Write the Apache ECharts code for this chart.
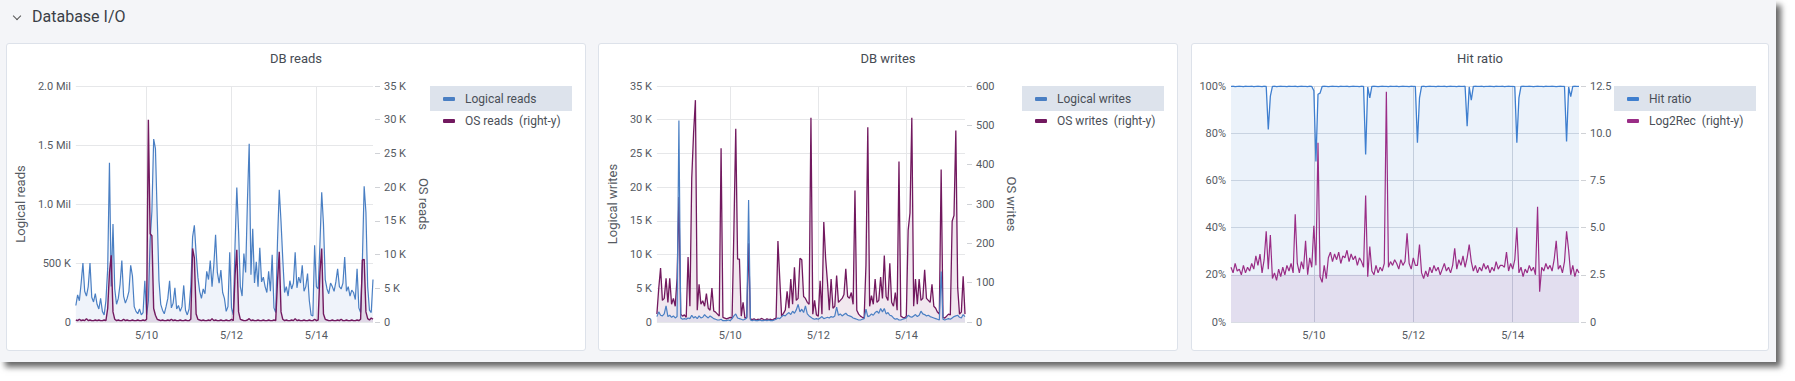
<!DOCTYPE html>
<html>
<head>
<meta charset="utf-8">
<script src="https://cdn.jsdelivr.net/npm/echarts@6/dist/echarts.min.js"></script>
<style>
html,body{margin:0;padding:0;background:#fff;width:1795px;height:381px;overflow:hidden;font-family:Roboto,"Noto Sans",sans-serif}
#page{position:absolute;left:0;top:0;width:1776px;height:362px;background:#f4f5f8;box-shadow:5px 5px 6px rgba(0,0,0,0.6)}
.panel{position:absolute;top:43px;height:308px;background:#fff;border:1px solid #dde2ea;border-radius:3px;box-sizing:border-box}
.lgbox{position:absolute;top:86px;height:25px;width:142px;background:#dde3ec}
.chart{position:absolute;top:43px;height:308px}
#hdr{position:absolute;left:32px;top:8px;font-size:16px;line-height:18px;color:#3a3f47}
#chev{position:absolute;left:14px;top:13px;width:5px;height:5px;border-right:1.5px solid #555;border-bottom:1.5px solid #555;transform:rotate(45deg)}
</style>
</head>
<body>
<div id="page">
  <div id="chev"></div>
  <div id="hdr">Database I/O</div>
  <div class="panel" style="left:6px;width:580px"></div>
  <div class="panel" style="left:598px;width:580px"></div>
  <div class="panel" style="left:1191px;width:578px"></div>
  <div class="lgbox" style="left:430px"></div>
  <div class="lgbox" style="left:1022px"></div>
  <div class="lgbox" style="left:1614px"></div>
  <div class="chart" id="c1" style="left:6px;width:580px"></div>
  <div class="chart" id="c2" style="left:598px;width:580px"></div>
  <div class="chart" id="c3" style="left:1191px;width:578px"></div>
</div>
<script>
// ---- time base (hourly samples) ----
const startTime = Date.UTC(2023, 4, 8, 8, 0);
const stepMs = 3600000;
const sampleCount = 169;
const endTime = startTime + (sampleCount - 1) * stepMs;
const xTickDates = [Date.UTC(2023, 4, 10), Date.UTC(2023, 4, 12), Date.UTC(2023, 4, 14)];
const xTickLabels = ['5/10', '5/12', '5/14'];

// ---- DB reads ----
const readsLeftLabels = ['0', '500 K', '1.0 Mil', '1.5 Mil', '2.0 Mil'];
const readsRightLabels = ['0', '5 K', '10 K', '15 K', '20 K', '25 K', '30 K', '35 K'];
// Logical reads, thousands
const logicalReads = [
  140,230,180,330,500,260,220,300,500,210,170,240,
  150,110,200,90,60,180,450,1350,300,830,280,150,
  200,320,520,220,160,200,260,480,390,130,90,70,
  110,60,80,350,60,180,690,940,1550,1470,900,350,
  150,100,70,130,200,350,120,160,290,110,140,90,
  130,310,100,60,110,300,720,820,580,380,260,200,
  280,240,430,360,520,300,480,740,420,330,440,250,
  200,90,130,590,120,60,650,1140,770,300,220,580,
  420,1020,1510,400,790,330,510,300,630,340,380,300,
  250,430,260,570,120,80,680,1120,850,530,250,300,
  220,350,280,330,590,290,380,330,480,260,300,410,
  180,60,50,650,300,280,660,1100,830,360,280,240,
  330,300,260,340,450,300,280,330,550,260,300,220,
  270,250,190,450,120,80,520,1150,930,300,100,80,
  360
];
// OS reads, thousands
const osReads = [
  0.3,0.2,0.4,0.2,0.3,0.2,0.5,0.2,0.3,0.2,0.2,0.3,
  0.2,0.3,0.2,0.2,0.3,0.2,2.0,7.3,9.9,1.5,0.4,0.2,
  0.3,0.2,0.2,0.4,0.2,0.3,0.2,0.2,0.3,0.2,0.2,0.3,
  0.2,0.2,0.3,0.2,0.4,30,13.1,12.8,2.0,1.0,0.4,0.3,
  0.2,0.3,0.2,0.2,0.3,0.2,0.4,0.2,0.3,0.2,0.2,0.3,
  0.2,0.2,0.3,0.2,0.2,0.4,10.9,9.5,1.2,0.4,0.3,0.2,
  0.3,0.2,0.2,0.3,0.2,0.5,0.2,0.3,0.2,0.2,0.3,0.2,
  0.2,0.3,0.2,0.2,0.4,0.2,6.9,10.7,1.5,0.4,0.3,0.2,
  0.2,0.3,0.5,0.2,0.3,0.2,0.2,0.3,0.2,0.2,0.3,0.2,
  0.2,0.3,0.2,0.2,0.3,0.2,6.0,10.4,1.5,0.4,0.2,0.3,
  0.2,0.2,0.3,0.2,0.5,0.2,0.3,0.2,0.2,0.3,0.2,0.2,
  0.3,0.2,0.2,0.4,0.2,0.3,7.4,10.9,1.2,0.4,0.3,0.2,
  0.2,0.3,0.2,0.2,0.3,0.2,0.4,0.2,0.2,0.3,0.2,0.2,
  0.3,0.2,0.2,0.3,0.2,0.4,9.2,9.3,1.5,0.5,0.3,0.6,
  0.4
];

// ---- DB writes ----
const writesLeftLabels = ['0', '5 K', '10 K', '15 K', '20 K', '25 K', '30 K', '35 K'];
const writesRightLabels = ['0', '100', '200', '300', '400', '500', '600'];
// Logical writes, thousands
const logicalWrites = [
  0.8,1.5,1.0,0.9,1.2,2.4,0.8,1.0,0.7,0.9,0.6,0.8,
  29.9,0.6,0.4,0.5,0.4,0.6,0.5,1.0,0.6,0.8,0.5,0.9,
  0.6,0.7,1.1,0.8,0.6,0.9,0.7,0.5,0.4,0.3,0.3,0.4,
  0.2,0.2,0.2,0.3,0.2,0.5,0.9,1.2,0.6,0.5,0.4,0.3,
  0.4,0.6,18.1,0.3,0.2,0.3,0.2,0.2,0.3,0.2,0.2,0.3,
  0.2,0.3,0.2,0.2,0.3,0.4,0.6,0.5,0.8,1.0,0.9,1.2,
  1.4,1.1,1.6,1.3,1.8,2.6,1.5,1.9,1.4,2.4,1.2,0.9,
  0.7,0.5,0.4,0.5,0.4,0.6,0.8,0.5,0.6,0.7,0.6,0.8,
  0.7,0.9,2.2,1.0,1.2,0.9,1.1,1.3,1.0,0.9,0.8,0.6,
  0.5,0.4,0.3,0.3,0.4,0.5,1.9,0.8,0.9,1.2,1.0,1.4,
  1.6,1.3,2.0,1.5,2.0,1.2,1.4,1.0,0.9,0.6,0.4,0.5,
  0.3,0.3,0.4,0.5,0.6,1.0,0.8,0.7,0.9,1.1,0.8,1.0,
  1.6,1.2,1.1,0.9,1.0,0.8,0.7,0.6,0.5,0.4,0.3,7.5,
  0.4,0.3,0.4,0.5,0.4,0.6,0.8,0.9,1.0,0.7,0.6,1.1,
  0.8
];
// OS writes
const osWrites = [
  20,85,137,55,60,111,50,111,45,60,40,111,
  318,20,15,18,12,165,40,365,480,564,30,96,
  45,54,40,72,35,30,86,28,25,20,15,442,
  12,10,8,10,12,10,237,491,160,160,15,50,
  10,12,200,8,6,8,5,7,6,9,7,5,
  8,6,7,5,8,10,206,109,15,22,30,78,
  35,109,45,139,55,60,162,158,65,60,50,45,
  519,20,55,18,15,105,20,254,162,102,30,109,
  35,40,118,50,55,60,70,135,65,60,75,45,
  334,30,20,15,12,10,145,495,40,67,45,109,
  50,55,114,60,169,65,55,149,50,40,75,30,
  408,15,12,10,15,233,277,519,40,109,45,109,
  55,60,133,60,55,50,96,40,35,25,20,388,
  12,10,15,20,18,256,271,487,88,20,25,116,
  20
];

// ---- Hit ratio ----
const hitLeftLabels = ['0%', '20%', '40%', '60%', '80%', '100%'];
const hitRightLabels = ['0', '2.5', '5.0', '7.5', '10.0', '12.5'];
const hitLowBand = [0, 20];
const hitRatio = [
  99.8,99.9,99.7,99.8,99.9,99.8,99.7,99.9,99.8,99.8,99.9,99.7,
  99.8,99.9,99.8,99.7,99.9,99.8,81.6,95.7,99.8,99.9,99.7,99.8,
  99.9,99.8,99.8,99.7,99.9,99.8,99.8,99.9,99.7,99.8,99.9,99.8,
  99.8,99.7,99.9,99.8,98.0,68.0,96.5,97.0,99.8,99.9,99.8,99.7,
  99.8,99.9,99.8,99.8,99.7,99.9,99.8,99.8,99.9,99.7,99.8,99.9,
  99.8,99.8,99.7,99.9,99.8,71.0,99.6,95.0,99.8,99.9,99.8,99.7,
  99.8,99.9,99.8,99.8,99.7,99.9,99.8,99.8,99.9,99.7,99.8,99.9,
  99.8,99.8,99.7,99.9,99.8,99.8,76.0,95.0,99.8,99.9,99.7,99.8,
  99.9,99.8,99.8,99.7,99.9,99.8,99.8,99.9,99.7,99.8,99.9,99.8,
  99.8,99.7,99.9,99.8,99.8,99.9,83.0,99.6,94.0,99.8,99.9,99.8,
  99.8,99.9,99.7,99.8,99.8,99.9,99.8,99.7,99.9,99.8,99.8,99.9,
  99.7,99.8,99.9,99.8,99.8,99.7,76.0,95.0,99.8,99.9,99.8,99.8,
  99.9,99.8,99.7,99.8,99.9,99.8,99.8,99.7,99.9,99.8,99.8,99.9,
  99.8,99.7,99.8,99.9,99.8,99.8,76.5,99.6,95.5,99.8,99.9,99.8,
  99.8
];
const log2Rec = [
  2.9,2.6,3.1,2.7,2.8,2.5,3.0,2.6,2.9,2.7,3.1,2.8,
  3.5,3.0,3.6,2.6,3.3,4.8,2.8,4.6,2.3,2.6,2.2,2.8,
  2.4,2.9,2.5,3.0,2.7,3.1,2.6,5.7,3.1,2.6,3.2,2.8,
  4.3,2.5,3.4,2.9,5.1,3.0,9.5,2.4,2.1,3.0,2.3,3.4,
  3.7,3.2,3.6,3.3,3.7,3.1,3.5,3.4,3.8,3.2,3.6,3.3,
  3.5,3.0,3.4,3.2,2.9,6.7,2.4,4.0,2.7,2.5,3.0,2.6,
  2.9,2.7,3.1,12.2,2.9,3.2,3.0,3.3,3.1,2.8,3.3,3.0,
  3.2,4.7,3.1,2.8,3.4,3.0,3.0,4.1,2.6,2.3,2.7,2.4,
  2.9,2.6,3.0,2.7,2.9,2.5,2.8,3.1,2.7,2.9,2.6,3.0,
  3.9,2.8,3.3,3.0,3.5,2.9,3.4,4.1,3.2,2.7,3.0,2.6,
  2.9,2.7,3.1,2.8,3.0,2.6,2.9,2.7,3.2,2.8,3.0,3.0,
  2.9,3.7,2.7,3.1,2.8,3.3,5.0,2.6,2.9,2.4,2.8,2.6,
  3.0,2.7,2.9,2.5,6.1,1.6,2.9,2.7,3.1,2.8,3.0,2.7,
  3.3,4.3,2.8,3.0,2.6,3.2,4.8,3.8,2.5,3.0,2.4,2.8,
  2.6
];

// ---- helpers ----
const FONT = 'Roboto, "Noto Sans", sans-serif';
const LABEL = '#555a62';
const BLUE = '#4a7fc3';
const PURPLE = '#72195f';
const HIT_BLUE = '#3f7fcf';
const MAGENTA = '#9a2d86';
const pairs = arr => arr.map((v, i) => [startTime + i * stepMs, v]);

function xAxisFor(splitColor) {
  return {
    type: 'value', min: startTime, max: endTime, scale: true,
    axisLine: { show: false },
    axisTick: { show: false, customValues: xTickDates },
    axisLabel: {
      customValues: xTickDates, color: LABEL, fontSize: 11, fontFamily: FONT, margin: 8,
      formatter: v => { const k = xTickDates.findIndex(t => Math.abs(t - v) < 60000); return k >= 0 ? xTickLabels[k] : ''; }
    },
    splitLine: { show: true, lineStyle: { color: splitColor, width: 1 } }
  };
}
function leftY(max, interval, labels, name, gap, splitColor) {
  return {
    type: 'value', position: 'left', min: 0, max: max, interval: interval,
    axisLine: { show: false }, axisTick: { show: false },
    axisLabel: { formatter: v => labels[Math.round(v / interval)], color: LABEL, fontSize: 11, fontFamily: FONT, margin: 5 },
    splitLine: { show: true, lineStyle: { color: splitColor, width: 1 } },
    name: name, nameLocation: 'middle', nameGap: gap, nameRotate: 90,
    nameTextStyle: { color: LABEL, fontSize: 13, fontFamily: FONT }
  };
}
function rightY(max, interval, labels, name, gap) {
  return {
    type: 'value', position: 'right', offset: 2, min: 0, max: max, interval: interval,
    axisLine: { show: false },
    axisTick: { show: true, length: 5, lineStyle: { color: '#d0d2d6' } },
    axisLabel: { formatter: v => labels[Math.round(v / interval)], color: LABEL, fontSize: 11, fontFamily: FONT, margin: 9 },
    splitLine: { show: false },
    name: name, nameLocation: 'middle', nameGap: gap, nameRotate: -90,
    nameTextStyle: { color: LABEL, fontSize: 13, fontFamily: FONT }
  };
}
function legendFor(names, shown, left) {
  return {
    orient: 'vertical', left: left, top: 43, itemWidth: 12, itemHeight: 4, itemGap: 6,
    icon: 'roundRect', selectedMode: false, data: names,
    formatter: n => shown[names.indexOf(n)],
    textStyle: { color: '#4a4f57', fontSize: 12, fontFamily: FONT, lineHeight: 16, padding: [0, 0, 0, 5] }
  };
}
function titleFor(text) {
  return { text: text, left: 'center', top: 4, textStyle: { color: '#464b53', fontSize: 13, fontWeight: 'normal', fontFamily: FONT } };
}
function lineSeries(name, data, color, yIdx, width, fillOpacity, z) {
  const s = {
    type: 'line', name: name, data: pairs(data), yAxisIndex: yIdx, color: color,
    showSymbol: false, symbol: 'none', z: z,
    lineStyle: { width: width, color: color }
  };
  if (fillOpacity > 0) s.areaStyle = { color: color, opacity: fillOpacity };
  return s;
}

function render(id, opt) {
  const c = echarts.init(document.getElementById(id), null, { renderer: 'svg' });
  try { c.setOption(opt); } catch (e) { console.error(e); }
  return c;
}

// ---- DB reads ----
render('c1', {
  animation: false,
  title: titleFor('DB reads'),
  legend: legendFor(['Logical reads', 'OS reads'], ['Logical reads', 'OS reads  (right-y)'], 432),
  grid: { left: 66, top: 43, width: 301, height: 236 },
  xAxis: xAxisFor('#e6e7e9'),
  yAxis: [
    leftY(2000, 500, readsLeftLabels, 'Logical reads', 42, '#e6e7e9'),
    rightY(35, 5, readsRightLabels, 'OS reads', 33)
  ],
  series: [
    lineSeries('Logical reads', logicalReads, BLUE, 0, 1.2, 0.09, 2),
    lineSeries('OS reads', osReads, PURPLE, 1, 1.4, 0.12, 3)
  ]
});

// ---- DB writes ----
render('c2', {
  animation: false,
  title: titleFor('DB writes'),
  legend: legendFor(['Logical writes', 'OS writes'], ['Logical writes', 'OS writes  (right-y)'], 432),
  grid: { left: 55, top: 43, width: 312, height: 236 },
  xAxis: xAxisFor('#e6e7e9'),
  yAxis: [
    leftY(35, 5, writesLeftLabels, 'Logical writes', 31, '#e6e7e9'),
    rightY(600, 100, writesRightLabels, 'OS writes', 31)
  ],
  series: [
    lineSeries('Logical writes', logicalWrites, BLUE, 0, 1.2, 0.09, 3),
    lineSeries('OS writes', osWrites, PURPLE, 1, 1.3, 0.1, 2)
  ]
});

// ---- Hit ratio ----
const hitSeries = lineSeries('Hit ratio', hitRatio, HIT_BLUE, 0, 1.3, 0.1, 2);
hitSeries.markArea = {
  silent: true,
  itemStyle: { color: 'rgba(155,44,134,0.1)' },
  data: [[{ yAxis: hitLowBand[0] }, { yAxis: hitLowBand[1] }]]
};
render('c3', {
  animation: false,
  title: titleFor('Hit ratio'),
  legend: legendFor(['Hit ratio', 'Log2Rec'], ['Hit ratio', 'Log2Rec  (right-y)'], 431),
  grid: { left: 40, top: 43, width: 348, height: 236 },
  xAxis: xAxisFor('#d3d7de'),
  yAxis: [
    leftY(100, 20, hitLeftLabels, '', 30, '#d9dde4'),
    rightY(12.5, 2.5, hitRightLabels, '', 30)
  ],
  series: [
    hitSeries,
    lineSeries('Log2Rec', log2Rec, MAGENTA, 1, 1.2, 0, 3)
  ]
});
</script>
</body>
</html>
